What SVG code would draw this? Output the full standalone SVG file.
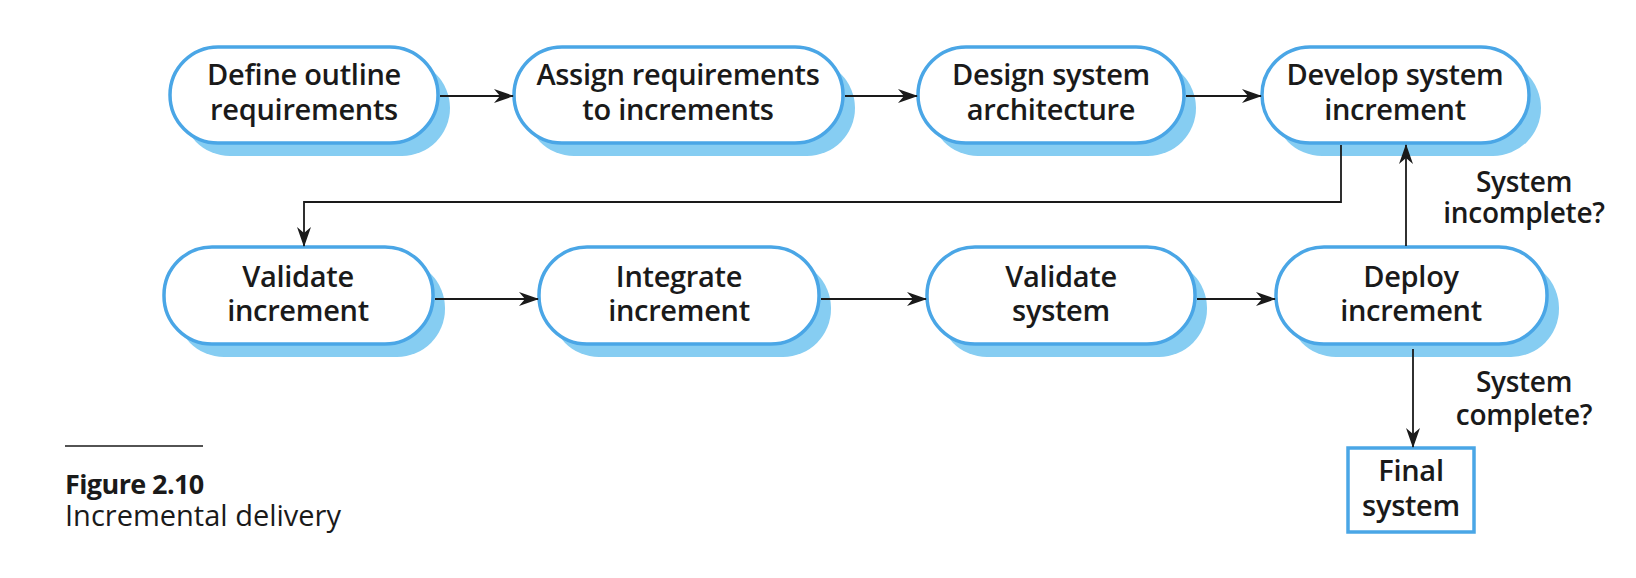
<svg xmlns="http://www.w3.org/2000/svg" width="1636" height="578" viewBox="0 0 1636 578">
<style>
.shadow{fill:#86CDF2;stroke:none}
.box{fill:#fff;stroke:#4AA6E6;stroke-width:3.5}
.t{font-family:"Open Sans","Noto Sans","Liberation Sans",sans-serif;font-size:29px;fill:#1a1a1a;text-anchor:middle;font-weight:600;letter-spacing:-0.3px}
.lbl{font-family:"Open Sans","Noto Sans","Liberation Sans",sans-serif;font-size:28px;fill:#1a1a1a;text-anchor:middle;font-weight:600;letter-spacing:-0.3px}
.conn{fill:none;stroke:#1a1a1a;stroke-width:1.8}
.cap{font-family:"Open Sans","Noto Sans","Liberation Sans",sans-serif;fill:#1a1a1a}
</style>
<defs>
<marker id="arr" markerUnits="userSpaceOnUse" markerWidth="20" markerHeight="14" refX="19" refY="7" orient="auto">
<path d="M0,0 L20,7 L0,14 L6,7 z" fill="#1a1a1a"/>
</marker>
</defs>
<rect width="1636" height="578" fill="#fff"/>

<g id="n1">
<rect class="shadow" x="182" y="60" width="268" height="96" rx="48"/>
<rect class="box" x="170" y="47" width="268" height="96" rx="48"/>
<text class="t" x="304" y="85">Define outline</text>
<text class="t" x="304" y="120">requirements</text>
</g>
<g id="n2">
<rect class="shadow" x="526" y="60" width="329" height="96" rx="48"/>
<rect class="box" x="514" y="47" width="329" height="96" rx="48"/>
<text class="t" x="678" y="85">Assign requirements</text>
<text class="t" x="678" y="120">to increments</text>
</g>
<g id="n3">
<rect class="shadow" x="930" y="60" width="266" height="96" rx="48"/>
<rect class="box" x="918" y="47" width="266" height="96" rx="48"/>
<text class="t" x="1051" y="85">Design system</text>
<text class="t" x="1051" y="120">architecture</text>
</g>
<g id="n4">
<rect class="shadow" x="1274" y="60" width="267" height="96" rx="48"/>
<rect class="box" x="1262" y="47" width="267" height="96" rx="48"/>
<text class="t" x="1395" y="85">Develop system</text>
<text class="t" x="1395" y="120">increment</text>
</g>
<g id="n5">
<rect class="shadow" x="176" y="260" width="269" height="97" rx="48"/>
<rect class="box" x="164" y="247" width="269" height="97" rx="48"/>
<text class="t" x="298" y="287">Validate</text>
<text class="t" x="298" y="321">increment</text>
</g>
<g id="n6">
<rect class="shadow" x="551" y="260" width="280" height="97" rx="48"/>
<rect class="box" x="539" y="247" width="280" height="97" rx="48"/>
<text class="t" x="679" y="287">Integrate</text>
<text class="t" x="679" y="321">increment</text>
</g>
<g id="n7">
<rect class="shadow" x="939" y="260" width="268" height="97" rx="48"/>
<rect class="box" x="927" y="247" width="268" height="97" rx="48"/>
<text class="t" x="1061" y="287">Validate</text>
<text class="t" x="1061" y="321">system</text>
</g>
<g id="n8">
<rect class="shadow" x="1288" y="260" width="271" height="97" rx="48"/>
<rect class="box" x="1276" y="247" width="271" height="97" rx="48"/>
<text class="t" x="1411" y="287">Deploy</text>
<text class="t" x="1411" y="321">increment</text>
</g>
<g id="n9">
<rect class="box" x="1348" y="448" width="126" height="84"/>
<text class="t" x="1411" y="481">Final</text>
<text class="t" x="1411" y="516">system</text>
</g>

<g id="connectors">
<line class="conn" x1="440" y1="96" x2="513" y2="96" marker-end="url(#arr)"/>
<line class="conn" x1="845" y1="96" x2="917" y2="96" marker-end="url(#arr)"/>
<line class="conn" x1="1186" y1="96" x2="1261" y2="96" marker-end="url(#arr)"/>
<path class="conn" d="M1341,145 V202 H304 V246" marker-end="url(#arr)"/>
<line class="conn" x1="435" y1="299" x2="538" y2="299" marker-end="url(#arr)"/>
<line class="conn" x1="821" y1="299" x2="926" y2="299" marker-end="url(#arr)"/>
<line class="conn" x1="1197" y1="299" x2="1275" y2="299" marker-end="url(#arr)"/>
<line class="conn" x1="1406" y1="246" x2="1406" y2="145" marker-end="url(#arr)"/>
<line class="conn" x1="1413" y1="349" x2="1413" y2="447" marker-end="url(#arr)"/>
</g>

<g id="labels">
<text class="lbl" x="1524" y="192">System</text>
<text class="lbl" x="1524" y="223">incomplete?</text>
<text class="lbl" x="1524" y="392">System</text>
<text class="lbl" x="1524" y="425">complete?</text>
</g>

<g id="caption">
<line x1="65" y1="446" x2="203" y2="446" stroke="#1a1a1a" stroke-width="1.5"/>
<text class="cap" x="65" y="494" font-size="27" font-weight="700" letter-spacing="-0.6">Figure 2.10</text>
<text class="cap" x="65" y="526" font-size="29">Incremental delivery</text>
</g>
</svg>
